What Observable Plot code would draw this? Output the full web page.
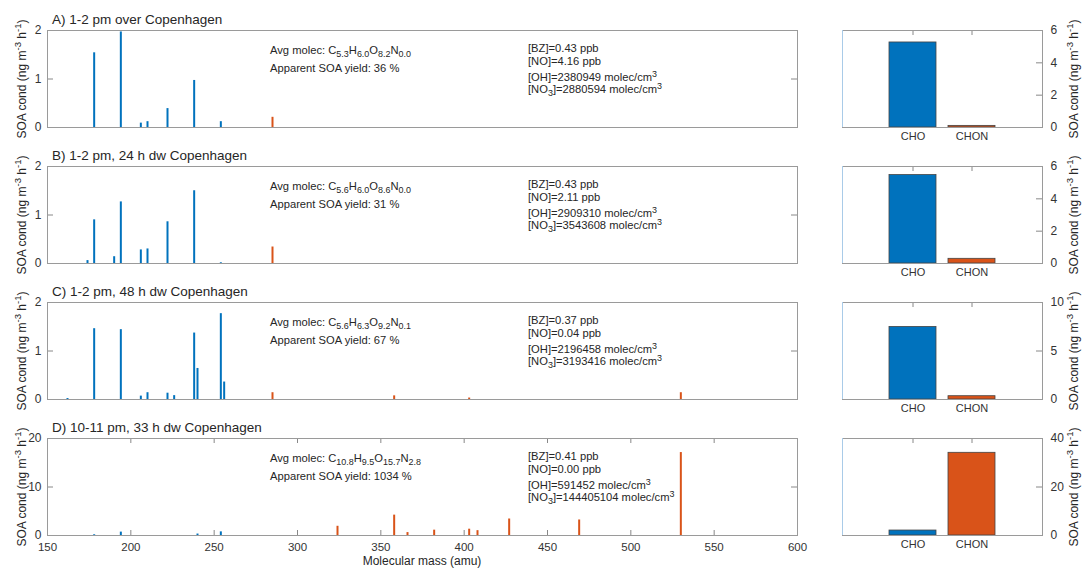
<!DOCTYPE html>
<html><head><meta charset="utf-8">
<script src="https://cdn.jsdelivr.net/npm/d3@7"></script>
<script src="https://cdn.jsdelivr.net/npm/@observablehq/plot@0.6"></script>
<style>
body{margin:0;background:#fff;}
#chart{position:relative;width:1083px;height:568px;font-family:"Liberation Sans",Arial,Helvetica,sans-serif;color:#262626;overflow:hidden;background:#fff}
.abs{position:absolute;white-space:nowrap;line-height:1}
sub,sup{font-size:0.8em;line-height:0}
sub{vertical-align:-0.3em}
sup{vertical-align:0.5em}
.rot{transform:translate(-50%,-50%) rotate(-90deg)}
</style></head><body><div id="chart"></div>
<script>
// ---------- data ----------
const panelTitles = ["A) 1-2 pm over Copenhagen","B) 1-2 pm, 24 h dw Copenhagen","C) 1-2 pm, 48 h dw Copenhagen","D) 10-11 pm, 33 h dw Copenhagen"];

const choMassA = [178,194,206,210,222,238,254];
const choValA  = [1.54,1.97,0.09,0.12,0.39,0.97,0.12];
const chonMassA = [285];
const chonValA  = [0.21];

const choMassB = [174,178,190,194,206,210,222,238,254];
const choValB  = [0.06,0.90,0.14,1.27,0.28,0.30,0.86,1.50,0.015];
const chonMassB = [285];
const chonValB  = [0.34];

const choMassC = [162,178,194,206,210,222,226,238,240,254,256];
const choValC  = [0.02,1.46,1.44,0.07,0.14,0.13,0.08,1.37,0.64,1.77,0.36];
const chonMassC = [285,358,403,530];
const chonValC  = [0.14,0.075,0.03,0.14];

const choMassD = [178,194,240,254];
const choValD  = [0.15,0.70,0.30,0.75];
const chonMassD = [324,358,366,382,403,408,427,469,530];
const chonValD  = [1.9,4.2,0.6,1.1,1.3,1.0,3.4,3.2,17.1];

const groups = ["CHO","CHON"];
const totalCHO  = [5.26,5.47,7.48,2.05];
const totalCHON = [0.10,0.29,0.34,34.1];

const leftTicks  = [[0,1,2],[0,1,2],[0,1,2],[0,10,20]];
const rightTicks = [[0,2,4,6],[0,2,4,6],[0,5,10],[0,20,40]];
const xTicks = [150,200,250,300,350,400,450,500,550,600];

const avgC = ["5.3","5.6","5.6","10.8"];
const avgH = ["6.0","6.0","6.3","9.5"];
const avgO = ["8.2","8.6","9.2","15.7"];
const avgN = ["0.0","0.0","0.1","2.8"];
const soaYield = ["36","31","67","1034"];
const bzPpb = ["0.43","0.43","0.37","0.41"];
const noPpb = ["4.16","2.11","0.04","0.00"];
const ohConc = ["2380949","2909310","2196458","591452"];
const no3Conc = ["2880594","3543608","3193416","144405104"];

const choMass = [choMassA,choMassB,choMassC,choMassD];
const choVal = [choValA,choValB,choValC,choValD];
const chonMass = [chonMassA,chonMassB,chonMassC,chonMassD];
const chonVal = [chonValA,chonValB,chonValC,chonValD];

// ---------- layout / style ----------
const blue = "#0072BD", orange = "#D95319";
const frameTops = [30,166,302,438];
const frameH = 97;
const FONT = '"Liberation Sans",Arial,Helvetica,sans-serif';
const chart = document.getElementById("chart");
const fmt = d => String(d);

function place(el, left, top){
  el.style.position = "absolute";
  el.style.left = left + "px";
  el.style.top = top + "px";
  chart.appendChild(el);
}
function html(cls, left, top, inner, size){
  const d = document.createElement("div");
  d.className = "abs " + (cls||"");
  d.style.left = left + "px";
  d.style.top = top + "px";
  d.style.fontSize = size + "px";
  d.innerHTML = inner;
  chart.appendChild(d);
  return d;
}

for (let i = 0; i < 4; i++) {
  const last = i === 3;
  const mt = 6, mb = last ? 30 : 6;
  const top = frameTops[i];
  const leftMarks = [
    Plot.ruleX(choVal[i], {x: choMass[i], y1: 0, y2: choVal[i], stroke: blue, strokeWidth: 2}),
    Plot.ruleX(chonVal[i], {x: chonMass[i], y1: 0, y2: chonVal[i], stroke: orange, strokeWidth: 2}),
    Plot.tickY(leftTicks[i], {y: d => d, insetRight: 744, stroke: "#888"}),
    Plot.tickY(leftTicks[i], {y: d => d, insetLeft: 744, stroke: "#888"}),
    Plot.axisY({ticks: leftTicks[i], tickSize: 0, tickPadding: 6, label: null, tickFormat: fmt, fontSize: 12})
  ];
  if (last) {
    leftMarks.push(
      Plot.tickX(xTicks, {x: d => d, insetTop: frameH - 5, stroke: "#888"}),
      Plot.tickX(xTicks, {x: d => d, insetBottom: frameH - 5, stroke: "#888"}),
      Plot.axisX({ticks: xTicks, tickSize: 0, tickPadding: 7, label: null, tickFormat: fmt, fontSize: 11.5})
    );
  }
  leftMarks.push(Plot.frame({stroke: "#9a9a9a"}));
  const lp = Plot.plot({
    width: 830, height: frameH + mt + mb,
    marginLeft: 47, marginRight: 33, marginTop: mt, marginBottom: mb,
    style: {fontFamily: FONT, fontSize: "12px", color: "#333", background: "transparent", overflow: "visible"},
    x: {domain: [150, 600], axis: last ? undefined : null},
    y: {domain: [0, leftTicks[i][leftTicks[i].length - 1]]},
    marks: leftMarks
  });
  place(lp, 0, top - mt);

  const rb = 22;
  const rp = Plot.plot({
    width: 253, height: frameH + mt + rb,
    marginLeft: 12, marginRight: 41, marginTop: mt, marginBottom: rb,
    style: {fontFamily: FONT, fontSize: "12px", color: "#333", background: "transparent", overflow: "visible"},
    x: {type: "band", domain: groups, paddingInner: 0.2, paddingOuter: 0.767},
    y: {domain: [0, rightTicks[i][rightTicks[i].length - 1]]},
    marks: [
      Plot.barY([groups[0]], {x: d => d, y: [totalCHO[i]], fill: blue, stroke: "#444", strokeWidth: 0.8}),
      Plot.barY([groups[1]], {x: d => d, y: [totalCHON[i]], fill: orange, stroke: "#444", strokeWidth: 0.8}),
      Plot.tickY(rightTicks[i], {y: d => d, insetLeft: 194, stroke: "#888"}),
      Plot.tickX(groups, {x: d => d, insetBottom: frameH - 5, stroke: "#888"}),
      Plot.axisY({anchor: "right", ticks: rightTicks[i], tickSize: 0, tickPadding: 8, label: null, tickFormat: fmt, fontSize: 12}),
      Plot.axisX({tickSize: 0, tickPadding: 5, label: null, fontSize: 11}),
      Plot.frame({stroke: "#9a9a9a"})
    ]
  });
  place(rp, 830, top - mt);
  const edge = document.createElement("div");
  edge.style.cssText = `position:absolute;left:842px;top:${top}px;width:1px;height:${frameH}px;background:#a9cbe8`;
  chart.appendChild(edge);

  // titles and annotations
  html("", 52, top - 17, panelTitles[i], 13.5);
  html("", 270, top + 21 - 6,
    `Avg molec: C<sub>${avgC[i]}</sub>H<sub>${avgH[i]}</sub>O<sub>${avgO[i]}</sub>N<sub>${avgN[i]}</sub>`, 11.2);
  html("", 270, top + 39 - 6, `Apparent SOA yield: ${soaYield[i]} %`, 11.2);
  html("", 528, top + 19 - 6, `[BZ]=${bzPpb[i]} ppb`, 11.2);
  html("", 528, top + 32 - 6, `[NO]=${noPpb[i]} ppb`, 11.2);
  html("", 528, top + 48 - 6, `[OH]=${ohConc[i]} molec/cm<sup>3</sup>`, 11.2);
  html("", 528, top + 60 - 6, `[NO<sub>3</sub>]=${no3Conc[i]} molec/cm<sup>3</sup>`, 11.2);

  // y labels
  const ylab = `SOA cond (ng m<sup>-3</sup> h<sup>-1</sup>)`;
  html("rot", 22, top + frameH / 2, ylab, 12);
  html("rot", 1074, top + frameH / 2, ylab, 12);
}
html("", 422, 561, "Molecular mass (amu)", 12).style.transform = "translate(-50%,-50%)";
</script></body></html>
